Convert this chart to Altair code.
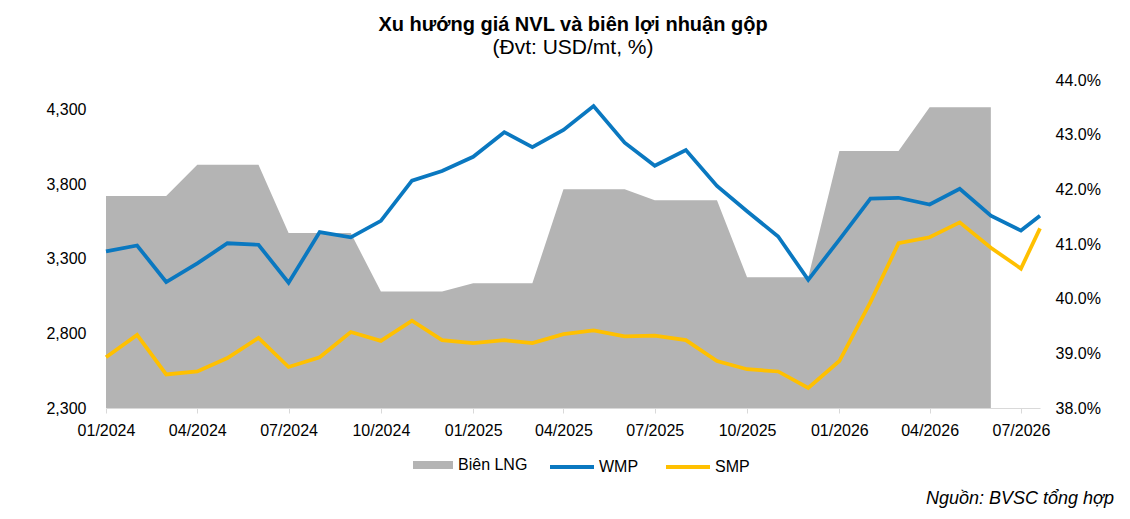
import pandas as pd
import altair as alt

# monthly price points (last point is mid-July 2026)
dates = [
    "2024-01-01", "2024-02-01", "2024-03-01", "2024-04-01", "2024-05-01", "2024-06-01",
    "2024-07-01", "2024-08-01", "2024-09-01", "2024-10-01", "2024-11-01", "2024-12-01",
    "2025-01-01", "2025-02-01", "2025-03-01", "2025-04-01", "2025-05-01", "2025-06-01",
    "2025-07-01", "2025-08-01", "2025-09-01", "2025-10-01", "2025-11-01", "2025-12-01",
    "2026-01-01", "2026-02-01", "2026-03-01", "2026-04-01", "2026-05-01", "2026-06-01",
    "2026-07-01", "2026-07-20",
]
wmp = [
    3350, 3390, 3145, 3270, 3405, 3395, 3140, 3480, 3445, 3555, 3825, 3890,
    3985, 4150, 4050, 4165, 4325, 4080, 3925, 4030, 3790, 3620, 3450, 3160,
    3430, 3705, 3710, 3665, 3770, 3590, 3490, 3590,
]
smp = [
    2640, 2790, 2525, 2545, 2635, 2770, 2575, 2640, 2810, 2750, 2885, 2755,
    2735, 2755, 2735, 2795, 2820, 2780, 2785, 2755, 2615, 2560, 2545, 2435,
    2615, 3010, 3405, 3445, 3545, 3375, 3235, 3505,
]
# gross margin, quarterly value shown on each month (Jan 2024 - Jun 2026)
margin_dates = dates[:30]
margin = [
    0.4188, 0.4188, 0.4188, 0.4245, 0.4245, 0.4245, 0.4120, 0.4120, 0.4120,
    0.4013, 0.4013, 0.4013, 0.4028, 0.4028, 0.4028, 0.4200, 0.4200, 0.4200,
    0.4180, 0.4180, 0.4180, 0.4039, 0.4039, 0.4039, 0.4270, 0.4270, 0.4270,
    0.4350, 0.4350, 0.4350,
]
left_ticks = [2300, 2800, 3300, 3800, 4300]
right_ticks = [0.38, 0.39, 0.40, 0.41, 0.42, 0.43, 0.44]

FONT = "Liberation Sans"

prices = pd.DataFrame({"date": [d + "T00:00" for d in dates], "WMP": wmp, "SMP": smp})
prices = prices.melt("date", var_name="series", value_name="price")
margins = pd.DataFrame({
    "date": [d + "T00:00" for d in margin_dates],
    "margin": margin,
    "series": "Biên LNG",
})

x_enc = alt.X(
    "date:T",
    title=None,
    scale=alt.Scale(
        domain=[alt.DateTime(year=2024, month=1, date=1),
                alt.DateTime(year=2026, month=7, date=20)],
        nice=False,
    ),
    axis=alt.Axis(
        values=[alt.DateTime(year=y, month=m, date=1)
                for y in (2024, 2025, 2026) for m in (1, 4, 7, 10)
                if not (y == 2026 and m == 10)],
        format="%m/%Y",
        labelFontSize=16,
        labelColor="black",
        labelPadding=9,
        domainColor="#d9d9d9",
        tickColor="#d9d9d9",
        tickSize=5,
        grid=False,
        labelFlush=False,
    ),
)

area = (
    alt.Chart(margins)
    .mark_area(opacity=1, interpolate="linear")
    .encode(
        x=x_enc,
        y=alt.Y(
            "margin:Q",
            title=None,
            scale=alt.Scale(domain=[0.38, 0.44], nice=False, zero=False),
            axis=alt.Axis(orient="right", values=right_ticks, format=".1%",
                          labelFontSize=16, labelColor="black", labelPadding=15,
                          domain=False, ticks=False, tickSize=0, grid=False),
        ),
        y2=alt.datum(0.38),
        fill=alt.Fill(
            "series:N",
            scale=alt.Scale(domain=["Biên LNG"], range=["#b4b4b4"]),
            legend=alt.Legend(
                title=None, orient="none", legendX=307, legendY=365,
                symbolType="M-1,-0.2H1V0.2H-1Z", symbolSize=1600,
                symbolStrokeWidth=0, symbolOpacity=1,
                labelFontSize=16, labelColor="black", labelOffset=5, padding=0,
            ),
        ),
    )
)

lines = (
    alt.Chart(prices)
    .mark_line(strokeWidth=3.75)
    .encode(
        x=x_enc,
        y=alt.Y(
            "price:Q",
            title=None,
            scale=alt.Scale(domain=[2300, 4500], nice=False, zero=False),
            axis=alt.Axis(orient="left", values=left_ticks, format=",.0f",
                          labelFontSize=16, labelColor="black", labelPadding=20,
                          domain=False, ticks=False, tickSize=0, grid=False),
        ),
        stroke=alt.Stroke(
            "series:N",
            scale=alt.Scale(domain=["WMP", "SMP"], range=["#0a78c0", "#ffc000"]),
            legend=alt.Legend(
                title=None, orient="none", legendX=442, legendY=363,
                direction="horizontal", symbolType="stroke", symbolSize=1936,
                symbolStrokeWidth=4, columnPadding=19,
                labelFontSize=16, labelColor="black", labelOffset=3, padding=0,
            ),
        ),
    )
)

source = (
    alt.Chart(pd.DataFrame({"t": ["Nguồn: BVSC tổng hợp"]}))
    .mark_text(align="right", baseline="alphabetic", fontSize=18,
               fontStyle="italic", font=FONT, color="black")
    .encode(text="t:N", x=alt.value(1008), y=alt.value(424))
)

chart = (
    alt.layer(area, lines, source)
    .resolve_scale(y="independent", fill="independent", stroke="independent")
    .properties(
        width=934,
        height=328,
        autosize=alt.AutoSizeParams(type="none"),
        padding={"left": 98, "top": 72, "right": 80, "bottom": 103},
        title=alt.TitleParams(
            text="Xu hướng giá NVL và biên lợi nhuận gộp",
            subtitle="(Đvt: USD/mt, %)",
            anchor="middle",
            fontSize=20,
            fontWeight="bold",
            color="black",
            subtitleFontSize=21,
            subtitleColor="black",
            subtitlePadding=2,
            offset=14,
        ),
    )
    .configure(font=FONT)
    .configure_view(stroke=None)
)

chart.save("out.html", embed_options={"renderer": "svg", "actions": False})
